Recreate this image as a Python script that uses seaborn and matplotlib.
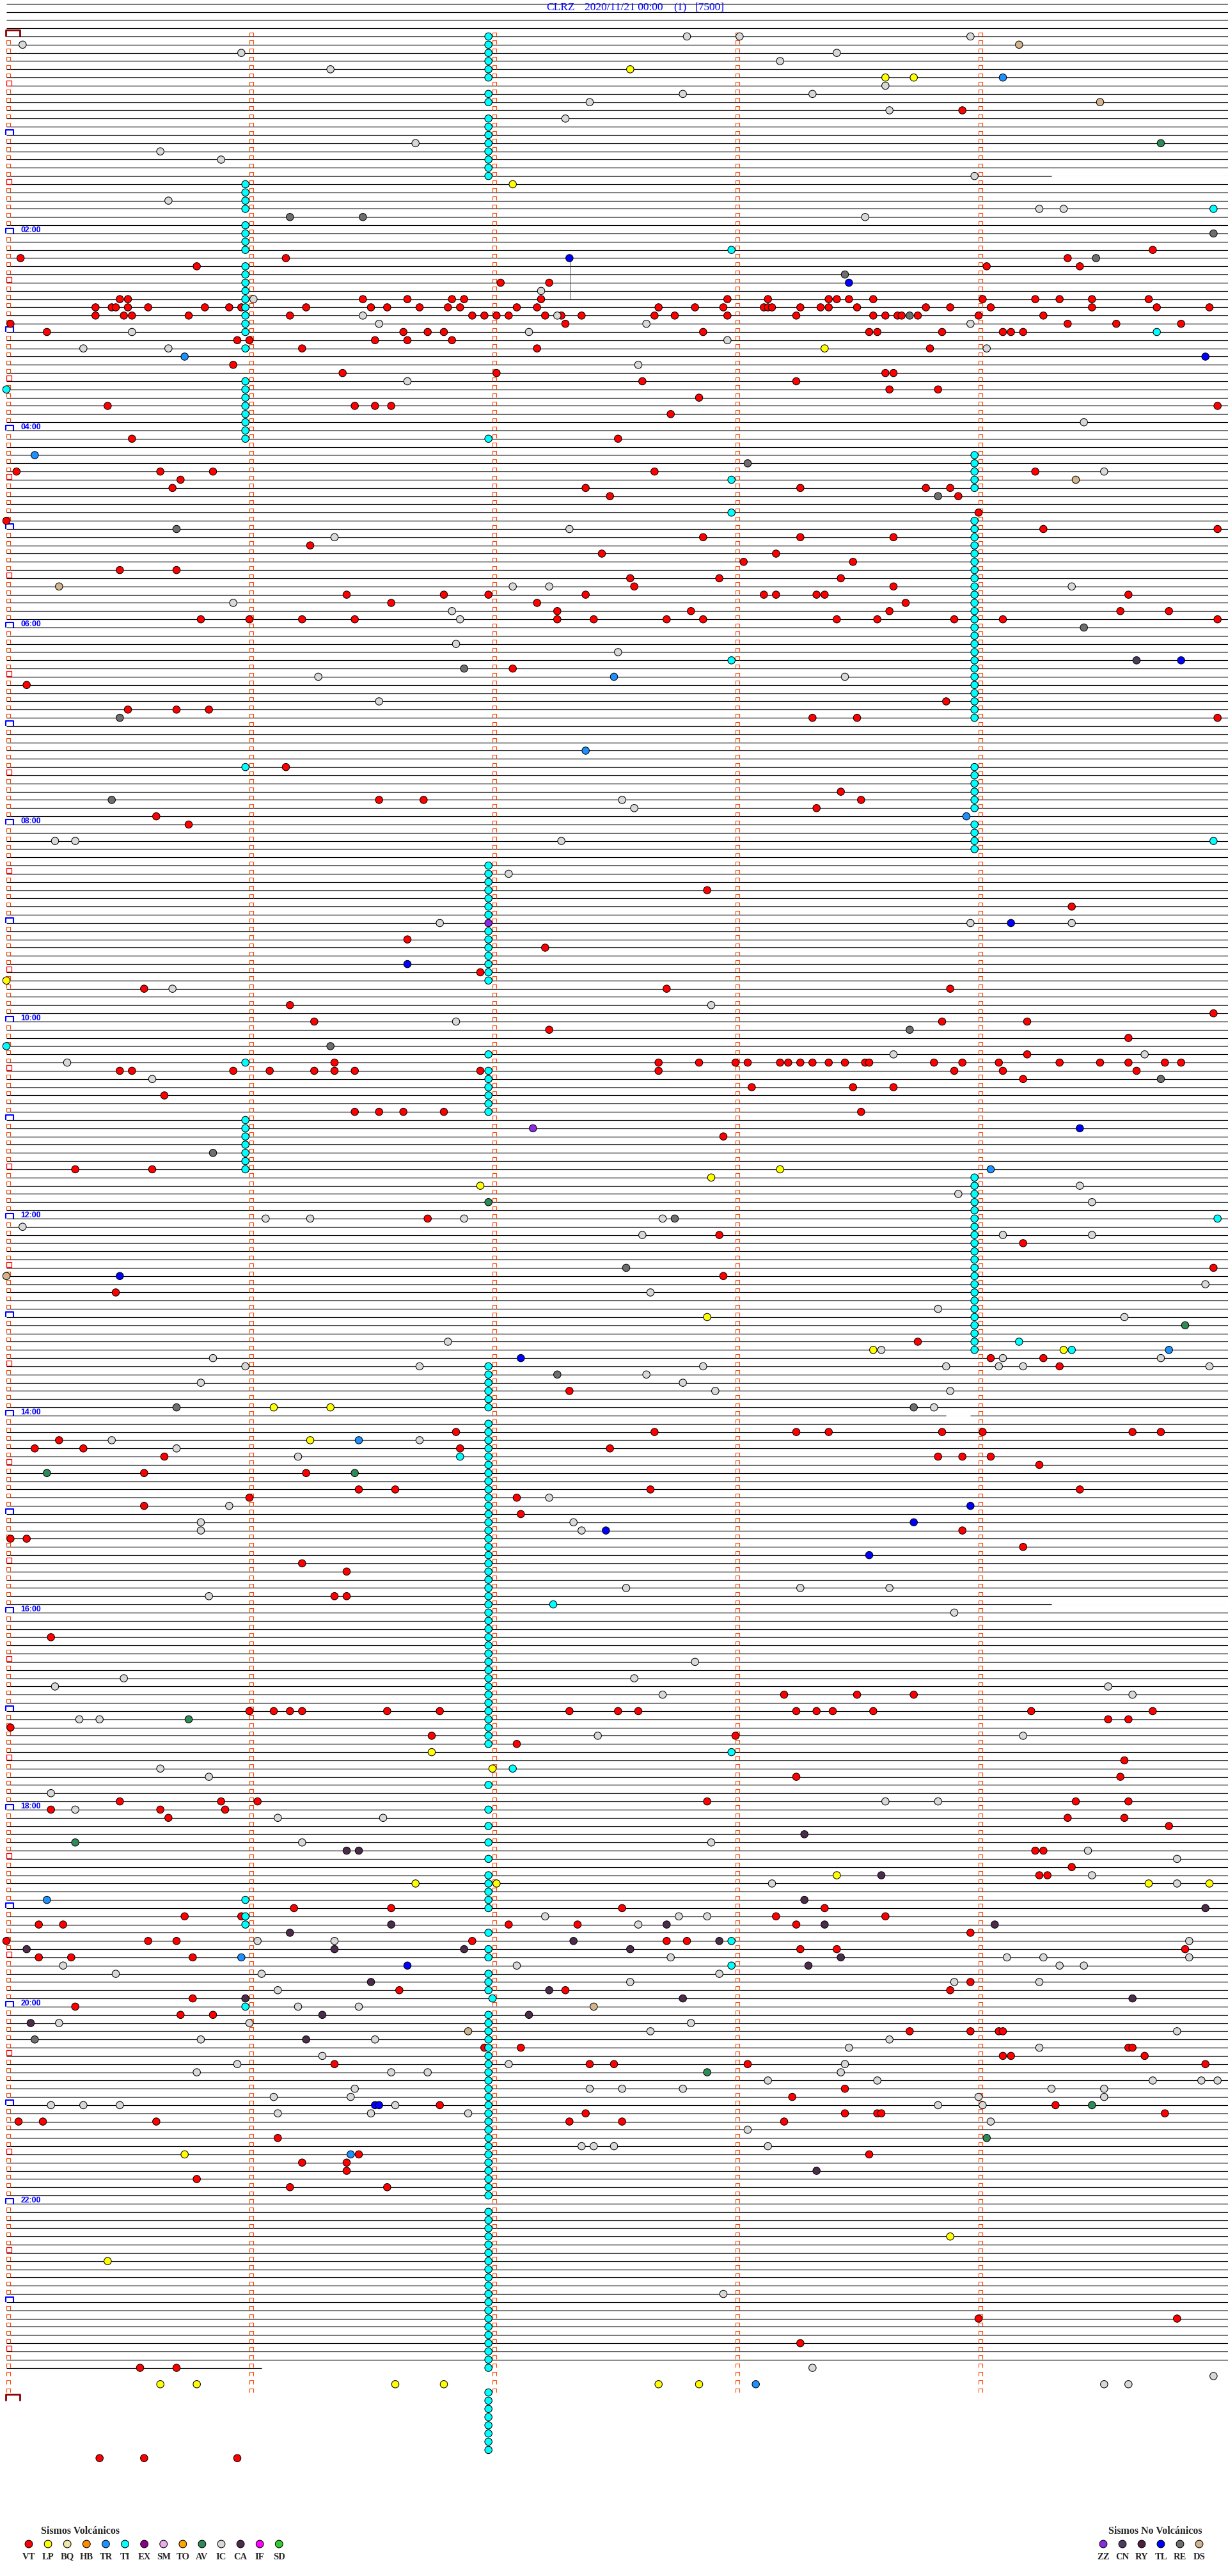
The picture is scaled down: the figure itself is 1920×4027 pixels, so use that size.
import matplotlib
matplotlib.use("Agg")
import matplotlib.pyplot as plt
from matplotlib.path import Path
import pandas as pd
import seaborn as sns

# ---------------------------------------------------------------------------
# Events: (row, second inside the row); one row = 5 minutes, row 0 = 00:00
# ---------------------------------------------------------------------------
VT = [(9, 236), (26, 283), (27, 3.5), (27, 69), (27, 262), (28, 47), (28, 242), (28, 265),
      (30, 122), (30, 134),
      (32, 28), (32, 30), (32, 88), (32, 99), (32, 110), (32, 113), (32, 132), (32, 178), (32, 188),
      (32, 203), (32, 205), (32, 208), (32, 214), (32, 241), (32, 254), (32, 260), (32, 268), (32, 282),
      (33, 22), (33, 26), (33, 27), (33, 30), (33, 35), (33, 49), (33, 55), (33, 58), (33, 74), (33, 90),
      (33, 94), (33, 102), (33, 109), (33, 112), (33, 126), (33, 131), (33, 161), (33, 170), (33, 177),
      (33, 187), (33, 188), (33, 189), (33, 196), (33, 201), (33, 203), (33, 210), (33, 227), (33, 233),
      (33, 243), (33, 268), (33, 284), (33, 297),
      (34, 22), (34, 29), (34, 31), (34, 45), (34, 70), (34, 115), (34, 118), (34, 121), (34, 124),
      (34, 133), (34, 137), (34, 142), (34, 160), (34, 165), (34, 178), (34, 195), (34, 214), (34, 217),
      (34, 220), (34, 221), (34, 225), (34, 240), (34, 256),
      (35, 1), (35, 138), (35, 262), (35, 274), (35, 290),
      (36, 10), (36, 98), (36, 104), (36, 108), (36, 172), (36, 213), (36, 215), (36, 231), (36, 246),
      (36, 248), (36, 251),
      (37, 57), (37, 60), (37, 91), (37, 99), (37, 110),
      (38, 73), (38, 131), (38, 228), (40, 56), (41, 83), (41, 121), (41, 217), (41, 219),
      (42, 157), (42, 195),
      (43, 218), (43, 230), (44, 171), (45, 25), (45, 86), (45, 91), (45, 95), (45, 299), (46, 164),
      (49, 31), (49, 151), (53, 2.5), (53, 38), (53, 51), (53, 160), (53, 254), (54, 43), (55, 41),
      (55, 143), (55, 196), (55, 227), (55, 233), (56, 149), (56, 235), (58, 240), (59, 0), (60, 256),
      (60, 299), (61, 172), (61, 196), (61, 219), (62, 75), (63, 147), (63, 190), (64, 182), (64, 209),
      (65, 28), (65, 42), (66, 154), (66, 176), (66, 206), (67, 155), (67, 219), (68, 84), (68, 108),
      (68, 119), (68, 143), (68, 187), (68, 190), (68, 200), (68, 202), (68, 277), (69, 95), (69, 131),
      (69, 222), (70, 136), (70, 169), (70, 218), (70, 275), (70, 287), (71, 48), (71, 60), (71, 73),
      (71, 86), (71, 136), (71, 145), (71, 163), (71, 172), (71, 205), (71, 215), (71, 234), (71, 246),
      (71, 299),
      (77, 125), (79, 5), (81, 232), (82, 30), (82, 42), (82, 50), (83, 199), (83, 210), (83, 299),
      (89, 69), (92, 206), (93, 92), (93, 103), (93, 211), (94, 200), (95, 37), (96, 45),
      (104, 173), (106, 263), (110, 99), (111, 133), (114, 117), (116, 34), (116, 163), (116, 233),
      (118, 70), (119, 298), (120, 76), (120, 231), (120, 252),
      (121, 134), (122, 277), (124, 252),
      (125, 81), (125, 161), (125, 171), (125, 180), (125, 183), (125, 191), (125, 193), (125, 196),
      (125, 199), (125, 203), (125, 207), (125, 212), (125, 213), (125, 229), (125, 236), (125, 245),
      (125, 260), (125, 270), (125, 277), (125, 286), (125, 290),
      (126, 28), (126, 31), (126, 56), (126, 65), (126, 76), (126, 81), (126, 86), (126, 117),
      (126, 161), (126, 234), (126, 246), (126, 279),
      (127, 251), (128, 184), (128, 209), (128, 219), (129, 39),
      (131, 86), (131, 92), (131, 98), (131, 108), (131, 211), (134, 177), (138, 17), (138, 36),
      (144, 104), (146, 176), (147, 251), (150, 298), (151, 177), (153, 27), (159, 225), (161, 243),
      (161, 256), (162, 260), (165, 139),
      (170, 111), (170, 160), (170, 195), (170, 203), (170, 231), (170, 241), (170, 278), (170, 285),
      (171, 13), (172, 7), (172, 19), (172, 112), (172, 149), (173, 39), (173, 230), (173, 236),
      (173, 243), (174, 255), (175, 34), (175, 74), (177, 87), (177, 96), (177, 159), (177, 265),
      (178, 60), (178, 126), (179, 34), (180, 127), (182, 236), (183, 1), (183, 5), (184, 251),
      (186, 73), (187, 84), (190, 81), (190, 84),
      (195, 11), (202, 192), (202, 210), (202, 224), (204, 60), (204, 66), (204, 70), (204, 73),
      (204, 94), (204, 107), (204, 139), (204, 151), (204, 156), (204, 195), (204, 200), (204, 204),
      (204, 214), (204, 253), (204, 283), (205, 272), (205, 277), (206, 1), (207, 105), (207, 180),
      (208, 126), (210, 276), (212, 195), (212, 275), (215, 28), (215, 53), (215, 62), (215, 173),
      (215, 264), (215, 277),
      (216, 11), (216, 38), (216, 54), (217, 40), (217, 262), (217, 276), (218, 287), (221, 254),
      (221, 256), (223, 263), (224, 255), (224, 257),
      (228, 71), (228, 95), (228, 152), (228, 202), (229, 44), (229, 58), (229, 190), (229, 217),
      (230, 8), (230, 14), (230, 124), (230, 141), (230, 195), (231, 238),
      (232, 0), (232, 35), (232, 42), (232, 115), (232, 163), (232, 168),
      (233, 196), (233, 205), (233, 291), (234, 8), (234, 16), (234, 46),
      (237, 238), (238, 97), (238, 138), (238, 233), (239, 46), (240, 17), (241, 43), (241, 51),
      (243, 223), (243, 238), (243, 245), (243, 246), (245, 118), (245, 127), (245, 277), (245, 278),
      (246, 246), (246, 248), (246, 281), (247, 81), (247, 144), (247, 150), (247, 183), (247, 296),
      (250, 207), (251, 194), (252, 107), (252, 259),
      (253, 143), (253, 207), (253, 215), (253, 216), (253, 286),
      (254, 3), (254, 9), (254, 37), (254, 139), (254, 152), (254, 192),
      (256, 67), (258, 87), (258, 213), (259, 73), (259, 84), (260, 84), (261, 47), (262, 70),
      (262, 94), (278, 240), (278, 289), (281, 196),
      (284, 33), (284, 42), (295, 23), (295, 34), (295, 57)]
LP = [(4, 154), (5, 217), (5, 224), (18, 125), (38, 202), (115, 0), (138, 191), (139, 174),
      (140, 117), (156, 173), (160, 214), (160, 261), (167, 66), (167, 80), (171, 75), (209, 105),
      (211, 120), (224, 205), (225, 101), (225, 121), (225, 282), (225, 297), (258, 44), (268, 233),
      (271, 25),
      (286, 38), (286, 47), (286, 96), (286, 108), (286, 161), (286, 171)]
TR = [(5, 246), (39, 44), (51, 7), (78, 150), (87, 143), (95, 237), (138, 243), (160, 287),
      (171, 87), (227, 10), (234, 58), (258, 85), (286, 185)]
TI = [(0, 119), (1, 119), (2, 119), (3, 119), (4, 119), (5, 119), (7, 119), (8, 119), (10, 119),
      (11, 119), (12, 119), (13, 119), (14, 119), (15, 119), (16, 119), (17, 119),
      (18, 59), (19, 59), (20, 59), (21, 59), (21, 298), (23, 59), (24, 59), (25, 59), (26, 59), (26, 179),
      (28, 59), (29, 59), (30, 59), (31, 59), (32, 59), (33, 59), (34, 59), (35, 59), (36, 59), (36, 284),
      (38, 59), (42, 59), (43, 0), (43, 59), (44, 59), (45, 59), (46, 59), (47, 59), (48, 59), (49, 59),
      (49, 119), (54, 179), (58, 179), (76, 179),
      (51, 239), (52, 239), (53, 239), (54, 239), (55, 239), (59, 239), (60, 239), (61, 239),
      (62, 239), (63, 239), (64, 239), (65, 239), (66, 239), (67, 239), (68, 239), (69, 239),
      (70, 239), (71, 239), (72, 239), (73, 239), (74, 239), (75, 239), (76, 239), (77, 239),
      (78, 239), (79, 239), (80, 239), (81, 239), (82, 239), (83, 239),
      (89, 59), (89, 239), (90, 239), (91, 239), (92, 239), (93, 239), (94, 239), (96, 239),
      (97, 239), (98, 239), (98, 298), (99, 239),
      (101, 119), (102, 119), (103, 119), (104, 119), (105, 119), (106, 119), (107, 119),
      (109, 119), (110, 119), (111, 119), (112, 119), (113, 119), (114, 119), (115, 119),
      (123, 0), (124, 119), (125, 59), (126, 119), (127, 119), (128, 119), (129, 119), (130, 119),
      (131, 119), (132, 59), (133, 59), (134, 59), (135, 59), (136, 59), (137, 59), (138, 59),
      (139, 239), (140, 239), (141, 239), (142, 239), (143, 239), (144, 239), (144, 299),
      (145, 239), (146, 239), (147, 239), (148, 239), (149, 239), (150, 239), (151, 239),
      (152, 239), (153, 239), (154, 239), (155, 239), (156, 239), (157, 239), (158, 239),
      (159, 239), (159, 250), (160, 239), (160, 263),
      (162, 119), (163, 119), (164, 119), (165, 119), (166, 119), (167, 119), (169, 119),
      (170, 119), (171, 119), (172, 119), (173, 119), (173, 112), (174, 119), (175, 119),
      (176, 119), (177, 119), (178, 119), (179, 119), (180, 119), (181, 119), (182, 119),
      (183, 119), (184, 119), (185, 119), (186, 119), (187, 119), (188, 119), (189, 119),
      (190, 119), (191, 119), (191, 135), (192, 119), (193, 119), (194, 119), (195, 119),
      (196, 119), (197, 119), (198, 119), (199, 119), (200, 119), (201, 119), (202, 119),
      (203, 119), (204, 119), (205, 119), (206, 119), (207, 119), (208, 119), (209, 179),
      (211, 125), (213, 119), (216, 119), (218, 119), (220, 119), (222, 119), (224, 119),
      (225, 119), (226, 119), (227, 119), (227, 59),
      (228, 119), (229, 59), (230, 59), (231, 119), (232, 179), (233, 119), (234, 119), (235, 179),
      (236, 119), (237, 119), (238, 119), (239, 120), (240, 59), (241, 119), (242, 119), (243, 119),
      (244, 119), (245, 119), (246, 119), (247, 119), (248, 119), (249, 119), (250, 119), (251, 119),
      (252, 119), (253, 119), (254, 119), (255, 119), (256, 119), (257, 119), (258, 119),
      (259, 119), (260, 119), (261, 119), (262, 119), (263, 119), (265, 119), (266, 119),
      (267, 119), (268, 119), (269, 119), (270, 119), (271, 119), (272, 119), (273, 119),
      (274, 119), (275, 119), (276, 119), (277, 119), (278, 119), (279, 119), (280, 119),
      (281, 119), (282, 119), (283, 119), (284, 119),
      (287, 119), (288, 119), (289, 119), (290, 119), (291, 119), (292, 119), (293, 119), (294, 119)]
AV = [(13, 285), (142, 119), (157, 291), (175, 10), (175, 86), (205, 45), (220, 17),
      (248, 173), (252, 268), (256, 242)]
IC = [(0, 168), (0, 181), (0, 238), (1, 4), (2, 58), (2, 205), (3, 191), (4, 80), (6, 217),
      (7, 167), (7, 199), (8, 144), (9, 218), (10, 138), (13, 101), (14, 38), (15, 53), (17, 239),
      (20, 40), (21, 255), (21, 261), (22, 212), (31, 132), (32, 61), (34, 88), (34, 136),
      (35, 92), (35, 158), (35, 238), (36, 31), (36, 129), (37, 178), (38, 19), (38, 40), (38, 242),
      (40, 156), (42, 99),
      (47, 266), (53, 271), (60, 139), (61, 81), (67, 125), (67, 134), (67, 263), (69, 56),
      (70, 110), (71, 112), (74, 111), (75, 151), (78, 77), (78, 207), (81, 92), (93, 152),
      (94, 155), (98, 12), (98, 17), (98, 137), (102, 124), (108, 107), (108, 238), (108, 263),
      (116, 41), (118, 174), (120, 111),
      (124, 219), (124, 281), (125, 15), (127, 36), (140, 265), (141, 235), (142, 268),
      (144, 64), (144, 75), (144, 113), (144, 162), (145, 4), (146, 157), (146, 246), (146, 268),
      (152, 296), (153, 159), (155, 230), (156, 276), (159, 109), (160, 216), (161, 51), (161, 246),
      (161, 285), (162, 59), (162, 102), (162, 172), (162, 232), (162, 245), (162, 251), (162, 297),
      (163, 158), (164, 48), (164, 167), (165, 175), (165, 233), (167, 229),
      (171, 26), (171, 102), (172, 42), (173, 72), (178, 134), (179, 55), (181, 48), (181, 140),
      (182, 48), (182, 142), (189, 153), (189, 196), (189, 218), (190, 50), (192, 234),
      (198, 170), (200, 29), (200, 155), (201, 12), (201, 272), (202, 162), (202, 278), (205, 18),
      (205, 23), (207, 146), (207, 251), (211, 38), (212, 50), (214, 11), (215, 217), (215, 230),
      (216, 17), (217, 67), (217, 93), (220, 73), (220, 174), (221, 267), (222, 289), (224, 268),
      (225, 189), (225, 289),
      (229, 133), (229, 166), (229, 173), (230, 156), (232, 62), (232, 81), (232, 292),
      (234, 164), (234, 247), (234, 256), (234, 292), (235, 14), (235, 126), (235, 260), (235, 266),
      (236, 27), (236, 63), (236, 176), (237, 154), (237, 234), (237, 255), (238, 67),
      (240, 72), (240, 87), (242, 13), (242, 60), (242, 169), (243, 159), (243, 289),
      (244, 48), (244, 91), (244, 218), (245, 208), (245, 255), (246, 78), (247, 57), (247, 124),
      (247, 207), (248, 47), (248, 95), (248, 104), (248, 206), (249, 188), (249, 215), (249, 283),
      (249, 295), (249, 299), (250, 86), (250, 144), (250, 152), (250, 167), (250, 258), (250, 271),
      (251, 66), (251, 85), (251, 240), (251, 271), (252, 11), (252, 19), (252, 28), (252, 96),
      (252, 230), (252, 241), (253, 67), (253, 90), (253, 114), (254, 243),
      (255, 183), (257, 142), (257, 145), (257, 150), (257, 188), (275, 177), (284, 199),
      (285, 298), (286, 271), (286, 277)]
CA = [(219, 197), (221, 84), (221, 87), (224, 216), (227, 197),
      (228, 296), (230, 95), (230, 163), (230, 202), (230, 244), (231, 70), (232, 140), (232, 176),
      (233, 5), (233, 81), (233, 113), (233, 154), (234, 206), (235, 198), (237, 90), (238, 134),
      (239, 59), (239, 167), (239, 278), (241, 78), (241, 129), (242, 6), (244, 74), (260, 200)]
ZZ = [(108, 119), (133, 130)]
CN = [(76, 279)]
TL = [(27, 139), (30, 208), (39, 296), (76, 290), (108, 248), (113, 99), (133, 265), (151, 28),
      (161, 127), (179, 238), (181, 224), (182, 148), (185, 213), (235, 99), (252, 91), (252, 92)]
RE = [(22, 70), (22, 88), (24, 298), (27, 269), (29, 207), (34, 223), (52, 183), (56, 230),
      (60, 42), (72, 266), (77, 113), (83, 28), (93, 26), (121, 223), (123, 80), (127, 285),
      (136, 51), (144, 165), (150, 153), (163, 136), (167, 42), (167, 224), (244, 7)]
DS = [(1, 250), (8, 270), (54, 264), (67, 13), (151, 0), (240, 145), (243, 114)]

EVENTS = {"VT": VT, "LP": LP, "TR": TR, "TI": TI, "AV": AV, "IC": IC, "CA": CA,
          "ZZ": ZZ, "CN": CN, "TL": TL, "RE": RE, "DS": DS}

# stretches where the trace is missing: (row, from sec, to sec)
TRACE_GAPS = [(17, 258, 302), (168, 232, 238), (191, 258, 302)]
SPIKE = (139.3, 27.2, 32.0)  # thin vertical trace excursion (sec, row from, row to)

VOLC_TYPES = ["VT", "LP", "BQ", "HB", "TR", "TI", "EX", "SM", "TO", "AV", "IC", "CA", "IF", "SD"]
VOLC_COLORS = ["#ff0000", "#ffff00", "#eee8aa", "#ff8c00", "#1e90ff", "#00ffff", "#8b008b",
               "#eeaaee", "#ffa500", "#2e8b57", "#d8d8d8", "#4b2d4b", "#ff00ff", "#32cd32"]
NOVOLC_TYPES = ["ZZ", "CN", "RY", "TL", "RE", "DS"]
NOVOLC_COLORS = ["#8a2be2", "#4b3d5f", "#4b2041", "#0000ff", "#6e6e6e", "#d2b48c"]

TITLE_PARTS = ["CLRZ", "2020/11/21 00:00", "(1)", "[7500]"]
HOURS_LABELLED = list(range(2, 24, 2))
N_ROWS = 288          # 24 h of 5-minute rows
LAST_TRACE_ROW = 284  # trace stops part way through this row
LAST_TRACE_SEC = 63

# ---------------------------------------------------------------------------
# Layout (pixels of the 1920 x 4027 page)
# ---------------------------------------------------------------------------
W, H, DPI = 1920, 4027, 100
X0_PX, SEC_PX = 10, 1900 / 300
Y0_PX, ROW_PX = 57, 12.833

sns.set_theme(style="white")
plt.rcParams["font.family"] = ["Liberation Serif", "DejaVu Serif"]

fig = plt.figure(figsize=(W / DPI, H / DPI), dpi=DPI)
ax = fig.add_axes([0, 0, 1, 1])

palette = dict(zip(VOLC_TYPES + NOVOLC_TYPES, VOLC_COLORS + NOVOLC_COLORS))

# trace lines
rows = list(range(-4, LAST_TRACE_ROW))
ax.hlines(rows, 0, 302, color="black", lw=0.85, zorder=1)
ax.hlines([LAST_TRACE_ROW], 0, LAST_TRACE_SEC, color="black", lw=0.85, zorder=1)
for r, s0, s1 in TRACE_GAPS:
    ax.hlines([r], s0, s1, color="white", lw=2.0, zorder=1.5)
ax.vlines([SPIKE[0]], SPIKE[1], SPIKE[2], color="#333333", lw=0.6, zorder=1)

# minute ticks above each row
tick = Path([(-1, -1), (-1, 1), (1, 1), (1, -1)],
            [Path.MOVETO, Path.LINETO, Path.LINETO, Path.LINETO])
hour_rows = list(range(0, N_ROWS + 1, 12))
half_rows = list(range(6, N_ROWS, 12))
tx, ty = [], []
for r in range(N_ROWS):
    for m in range(5):
        if m == 0 and (r in hour_rows or r in half_rows):
            continue
        tx.append(m * 60 + 0.4)
        ty.append(r - 0.27)
ax.plot(tx, ty, ls="none", marker=tick, ms=4.0, mec="#ff4500", mew=0.8, mfc="none", zorder=2)

# half-hour squares, hour brackets, day brackets
ax.plot([0.7] * len(half_rows), [r - 0.35 for r in half_rows], ls="none", marker="s",
        ms=6.3, mec="#ff0000", mew=0.9, mfc="none", zorder=2)
inner_hours = [r for r in hour_rows if 0 < r < N_ROWS]
bracket = Path([(-1, -0.66), (-1, 0.66), (1, 0.66), (1, -0.66)],
               [Path.MOVETO, Path.LINETO, Path.LINETO, Path.LINETO])
ax.plot([0.8] * len(inner_hours), [r - 0.31 for r in inner_hours], ls="none", marker=bracket,
        ms=8.6, mec="#0000ff", mew=1.5, mfc="none", zorder=2)
day_bracket = Path([(-1, -0.45), (-1, 0.45), (1, 0.45), (1, -0.45)],
                   [Path.MOVETO, Path.LINETO, Path.LINETO, Path.LINETO])
ax.plot([1.6, 1.6], [-0.39, N_ROWS - 0.39], ls="none", marker=day_bracket,
        ms=15.5, mec="#8b0000", mew=2.0, mfc="none", zorder=2)

for h in HOURS_LABELLED:
    ax.text(3.5, h * 12 - 0.42, f"{h:02d}:00", color="#0000ff", fontsize=8.8,
            fontweight="bold", family=["Liberation Sans", "DejaVu Sans"], va="center", ha="left")

# events
records = [(r, s, name) for name, ev in EVENTS.items() for r, s in ev]
df = pd.DataFrame(records, columns=["row", "sec", "type"])
sns.scatterplot(data=df, x="sec", y="row", hue="type", palette=palette, s=68,
                edgecolor="black", linewidth=0.75, legend=False, ax=ax, zorder=3)

ax.set_xlim(-X0_PX / SEC_PX, (W - X0_PX) / SEC_PX)
ax.set_ylim((H - Y0_PX) / ROW_PX, -Y0_PX / ROW_PX)
ax.axis("off")

# page overlay for title and legend, in pixels
lay = fig.add_axes([0, 0, 1, 1], facecolor="none")
lay.set_xlim(0, W)
lay.set_ylim(H, 0)
lay.axis("off")

for txt, x in zip(TITLE_PARTS, [854, 914, 1053, 1087]):
    lay.text(x, 12.5, txt, color="#0000ff", fontsize=12.5, va="center", ha="left")

lay.text(64, 3957, "Sismos Volcánicos", fontsize=11.5, fontweight="bold", va="center", ha="left")
lx = [45 + 30.1 * i for i in range(len(VOLC_TYPES))]
lay.scatter(lx, [3977] * len(lx), s=72, c=VOLC_COLORS, edgecolors="black", linewidths=0.75)
for x, t in zip(lx, VOLC_TYPES):
    lay.text(x, 3997, t, fontsize=10.5, fontweight="bold", va="center", ha="center")

lay.text(1733, 3957, "Sismos No Volcánicos", fontsize=11.5, fontweight="bold", va="center", ha="left")
rx = [1725 + 30 * i for i in range(len(NOVOLC_TYPES))]
lay.scatter(rx, [3977] * len(rx), s=72, c=NOVOLC_COLORS, edgecolors="black", linewidths=0.75)
for x, t in zip(rx, NOVOLC_TYPES):
    lay.text(x, 3997, t, fontsize=10.5, fontweight="bold", va="center", ha="center")

fig.savefig("out.png", dpi=DPI, facecolor="white")
